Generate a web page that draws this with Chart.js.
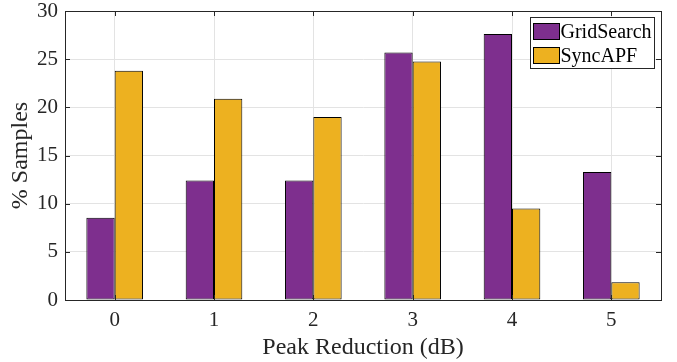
<!DOCTYPE html>
<html>
<head>
<meta charset="utf-8">
<script src="https://cdn.jsdelivr.net/npm/chart.js@4/dist/chart.umd.min.js"></script>
<style>
html,body{margin:0;padding:0;background:#fff;}
#wrap{width:677px;height:362px;}
</style>
</head>
<body>
<div id="wrap"><canvas id="c" width="677" height="362"></canvas></div>
<script>
const categories = ['0', '1', '2', '3', '4', '5'];
const gridSearch = [8.55, 12.4, 12.4, 25.7, 27.6, 13.3];
const syncAPF = [23.8, 20.9, 19.0, 24.75, 9.5, 1.85];
const yTicks = [0, 5, 10, 15, 20, 25, 30];
const seriesNames = ['GridSearch', 'SyncAPF'];

const AX = '#262626';
const FONT = "'Liberation Serif', 'Times New Roman', serif";

const frame = {
  id: 'frame',
  afterDatasetsDraw(chart) {
    const {ctx, chartArea: a, scales} = chart;
    ctx.save();
    ctx.strokeStyle = AX;
    ctx.lineWidth = 1;
    const tl = 5;
    ctx.beginPath();
    scales.x.ticks.forEach((t, i) => {
      const x = Math.round(scales.x.getPixelForTick(i)) + 0.5;
      ctx.moveTo(x, a.top); ctx.lineTo(x, a.top + tl);
      ctx.moveTo(x, a.bottom); ctx.lineTo(x, a.bottom - tl);
    });
    scales.y.ticks.forEach((t, i) => {
      const y = Math.round(scales.y.getPixelForTick(i)) + 0.5;
      ctx.moveTo(a.left, y); ctx.lineTo(a.left + tl, y);
      ctx.moveTo(a.right, y); ctx.lineTo(a.right - tl, y);
    });
    ctx.stroke();
    ctx.strokeRect(Math.round(a.left) + 0.5, Math.round(a.top) + 0.5, Math.round(a.right - a.left), Math.round(a.bottom - a.top));
    // legend
    const w = 124, h = 51;
    const lx = Math.round(a.right) - 7 - w + 0.5, ly = Math.round(a.top) + 6 + 0.5;
    ctx.fillStyle = '#fff';
    ctx.fillRect(lx, ly, w, h);
    ctx.strokeRect(lx, ly, w, h);
    ctx.font = '20px ' + FONT;
    ctx.textBaseline = 'middle';
    chart.data.datasets.forEach((ds, i) => {
      const cy = ly + 14 + i * 24;
      ctx.fillStyle = ds.backgroundColor;
      ctx.fillRect(lx + 3, cy - 8, 26, 16);
      ctx.strokeStyle = '#000';
      ctx.strokeRect(lx + 3, cy - 8, 26, 16);
      ctx.fillStyle = '#000';
      ctx.fillText(ds.label, lx + 30, cy + 1);
    });
    ctx.restore();
  }
};

new Chart(document.getElementById('c'), {
  type: 'bar',
  data: {
    labels: categories,
    datasets: [
      {label: seriesNames[0], data: gridSearch, backgroundColor: '#7E2F8E', borderColor: '#000', borderWidth: 1, borderSkipped: false},
      {label: seriesNames[1], data: syncAPF, backgroundColor: '#EDB120', borderColor: '#000', borderWidth: 1, borderSkipped: false}
    ]
  },
  options: {
    responsive: false,
    devicePixelRatio: 1,
    animation: false,
    layout: {padding: {left: 0, right: 16, top: 11, bottom: 0}},
    plugins: {legend: {display: false}, tooltip: {enabled: false}},
    datasets: {bar: {categoryPercentage: 0.57, barPercentage: 1.0}},
    scales: {
      x: {
        offset: true,
        grid: {offset: false, color: '#e3e3e3', drawTicks: false},
        border: {display: true, color: AX},
        ticks: {font: {family: FONT, size: 21}, color: AX, padding: 8, maxRotation: 0},
        title: {display: true, text: 'Peak Reduction (dB)', font: {family: FONT, size: 24}, color: AX, padding: {top: 0, bottom: 0}},
        afterFit(s) { s.height = 62; s.paddingLeft = 0; s.paddingRight = 0; }
      },
      y: {
        min: 0, max: 30,
        afterBuildTicks(s) { s.ticks = yTicks.map(v => ({value: v})); },
        grid: {color: '#e3e3e3', drawTicks: false},
        border: {display: true, color: AX},
        ticks: {font: {family: FONT, size: 21}, color: AX, padding: 7},
        title: {display: true, text: '% Samples', font: {family: FONT, size: 24}, color: AX, padding: {top: 6, bottom: 0}},
        afterFit(s) { s.width = 65; s.paddingTop = 0; s.paddingBottom = 0; }
      }
    }
  },
  plugins: [frame]
});
</script>
</body>
</html>
